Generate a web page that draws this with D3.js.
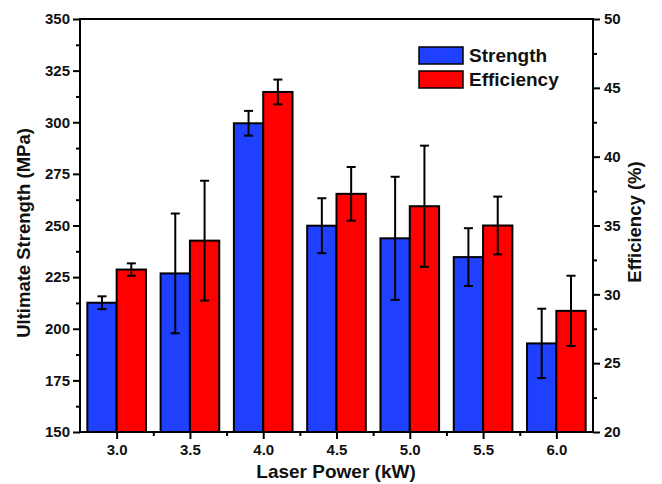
<!DOCTYPE html>
<html>
<head>
<meta charset="utf-8">
<script src="https://cdn.jsdelivr.net/npm/d3@7"></script>
<style>
    body { margin: 0; background: #fff; }
    text { font-family: Arial, "Liberation Sans", sans-serif; font-weight: bold; fill: #111; }
</style>
</head>
<body>
<div id="chart"></div>
<script>
// data
var powers = [3.0, 3.5, 4.0, 4.5, 5.0, 5.5, 6.0];
var tickLabels = ["3.0", "3.5", "4.0", "4.5", "5.0", "5.5", "6.0"];
var strength = [212.6, 226.8, 299.5, 249.9, 243.8, 234.7, 192.9];
var strengthErr = [3.1, 29, 6, 13.3, 29.8, 14, 16.8];
var efficiency = [31.8, 33.9, 44.7, 37.3, 36.4, 35.0, 28.8];
var efficiencyErr = [0.45, 4.35, 0.9, 1.95, 4.4, 2.1, 2.55];
var seriesNames = ["Strength", "Efficiency"];
var colors = ["#2040ff", "#ff0000"];

const width = 662;
const height = 484;
var plotLeft = 80, plotRight = 593, plotTop = 19, plotBottom = 432;

var svg = d3.select("#chart").append("svg")
    .attr("width", width).attr("height", height);

var x = d3.scaleLinear().domain([2.75, 6.25]).range([plotLeft, plotRight]);
var yL = d3.scaleLinear().domain([150, 350]).range([plotBottom, plotTop]);
var yR = d3.scaleLinear().domain([20, 50]).range([plotBottom, plotTop]);
var barW = x(3.2) - x(3.0);

// bars
var groups = [
    {vals: strength, errs: strengthErr, y: yL, off: -barW, color: colors[0]},
    {vals: efficiency, errs: efficiencyErr, y: yR, off: 0, color: colors[1]}
];

groups.forEach(function (s) {
    var g = svg.append("g");
    g.selectAll("rect")
        .data(powers)
        .enter()
        .append("rect")
        .attr("x", function (d) { return x(d) + s.off; })
        .attr("y", function (d, i) { return s.y(s.vals[i]); })
        .attr("width", barW)
        .attr("height", function (d, i) { return plotBottom - s.y(s.vals[i]); })
        .attr("fill", s.color)
        .attr("stroke", "#000")
        .attr("stroke-width", 2);

    // error bars
    var eg = g.selectAll(".err")
        .data(powers)
        .enter()
        .append("g")
        .attr("class", "err")
        .attr("stroke", "#000")
        .attr("stroke-width", 2);
    eg.append("line")
        .attr("x1", function (d) { return x(d) + s.off + barW / 2; })
        .attr("x2", function (d) { return x(d) + s.off + barW / 2; })
        .attr("y1", function (d, i) { return s.y(s.vals[i] + s.errs[i]); })
        .attr("y2", function (d, i) { return s.y(s.vals[i] - s.errs[i]); });
    [1, -1].forEach(function (sign) {
        eg.append("line")
            .attr("x1", function (d) { return x(d) + s.off + barW / 2 - 4.5; })
            .attr("x2", function (d) { return x(d) + s.off + barW / 2 + 4.5; })
            .attr("y1", function (d, i) { return s.y(s.vals[i] + sign * s.errs[i]); })
            .attr("y2", function (d, i) { return s.y(s.vals[i] + sign * s.errs[i]); });
    });
});

// axes
function styleAxis(g) {
    g.select(".domain").remove();
    g.selectAll("line").attr("stroke", "#000").attr("stroke-width", 2);
    g.selectAll("text").style("font-size", "15px");
}

// minor ticks
svg.append("g").attr("transform", "translate(" + plotLeft + ",0)")
    .call(d3.axisLeft(yL).tickValues(d3.range(162.5, 350, 25)).tickSize(4).tickFormat(""))
    .call(styleAxis);
svg.append("g").attr("transform", "translate(" + plotRight + ",0)")
    .call(d3.axisRight(yR).tickValues(d3.range(22.5, 50, 5)).tickSize(4).tickFormat(""))
    .call(styleAxis);
svg.append("g").attr("transform", "translate(0," + plotBottom + ")")
    .call(d3.axisBottom(x).tickValues(d3.range(3.25, 6.2, 0.5)).tickSize(4).tickFormat(""))
    .call(styleAxis);

// major ticks
svg.append("g").attr("transform", "translate(" + plotLeft + ",0)")
    .call(d3.axisLeft(yL).tickValues(d3.range(150, 351, 25)).tickSize(7).tickPadding(3))
    .call(styleAxis);
svg.append("g").attr("transform", "translate(" + plotRight + ",0)")
    .call(d3.axisRight(yR).tickValues(d3.range(20, 51, 5)).tickSize(7).tickPadding(4))
    .call(styleAxis);
svg.append("g").attr("transform", "translate(0," + plotBottom + ")")
    .call(d3.axisBottom(x).tickValues(powers).tickSize(7).tickPadding(5)
        .tickFormat(function (d, i) { return tickLabels[i]; }))
    .call(styleAxis);

// frame
svg.append("rect")
    .attr("x", plotLeft).attr("y", plotTop)
    .attr("width", plotRight - plotLeft).attr("height", plotBottom - plotTop)
    .attr("fill", "none").attr("stroke", "#000").attr("stroke-width", 2);

// axis titles
svg.append("text")
    .attr("transform", "translate(30,233) rotate(-90)")
    .attr("text-anchor", "middle")
    .style("font-size", "18.5px")
    .text("Ultimate Strength (MPa)");
svg.append("text")
    .attr("transform", "translate(641,222) rotate(-90)")
    .attr("text-anchor", "middle")
    .style("font-size", "18.5px")
    .text("Efficiency (%)");
svg.append("text")
    .attr("x", 336)
    .attr("y", 478)
    .attr("text-anchor", "middle")
    .style("font-size", "19px")
    .text("Laser Power (kW)");

// legend
var legend = svg.append("g").attr("transform", "translate(419,47)");
seriesNames.forEach(function (name, i) {
    legend.append("rect")
        .attr("x", 0).attr("y", i * 24)
        .attr("width", 44).attr("height", 17)
        .attr("fill", colors[i])
        .attr("stroke", "#000").attr("stroke-width", 1.5);
    legend.append("text")
        .attr("x", 50).attr("y", i * 24 + 15)
        .style("font-size", "19px")
        .text(name);
});
</script>
</body>
</html>
